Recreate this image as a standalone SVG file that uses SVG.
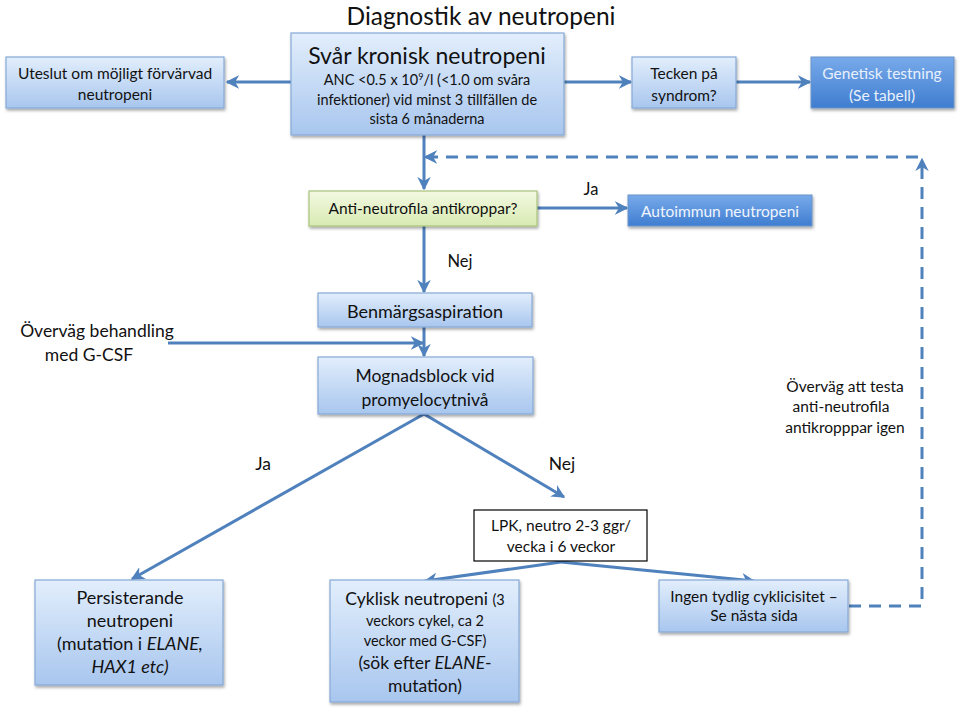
<svg xmlns="http://www.w3.org/2000/svg" width="960" height="710" viewBox="0 0 960 710">
<style>
text{font-family:Lato,"Open Sans","Liberation Sans",sans-serif;fill:#111;text-anchor:middle}
.b{fill:url(#lb);stroke:#86a9d6;stroke-width:1.2;filter:url(#sh)}
.d{fill:url(#db);stroke:#6b93c8;stroke-width:1;filter:url(#sh)}
.g{fill:url(#gr);stroke:#a9c37c;stroke-width:1.2;filter:url(#sh)}
.w{fill:#fff;stroke:#000;stroke-width:1.2}
.c{fill:none;stroke:#4f81bd;stroke-width:3}
.ds{fill:none;stroke:#4f81bd;stroke-width:3;stroke-dasharray:12,8}
</style>
<defs>
<linearGradient id="lb" x1="0" y1="0" x2="0" y2="1"><stop offset="0" stop-color="#e2eefc"/><stop offset="1" stop-color="#a8c6ee"/></linearGradient>
<linearGradient id="db" x1="0" y1="0" x2="0" y2="1"><stop offset="0" stop-color="#78aaea"/><stop offset="1" stop-color="#3f7dd0"/></linearGradient>
<linearGradient id="gr" x1="0" y1="0" x2="0" y2="1"><stop offset="0" stop-color="#f3f9e2"/><stop offset="1" stop-color="#d8eab2"/></linearGradient>
<filter id="sh" x="-10%" y="-10%" width="130%" height="140%"><feDropShadow dx="1" dy="2" stdDeviation="1.5" flood-color="#000" flood-opacity="0.35"/></filter>
<marker id="ar" viewBox="0 0 10 10" refX="9" refY="5" markerWidth="4.5" markerHeight="4.5" orient="auto" markerUnits="strokeWidth"><path d="M0,0 L10,5 L0,10 L3,5 z" fill="#4f81bd"/></marker>
</defs>
<rect width="960" height="710" fill="#fff"/>
<text x="481" y="25" font-size="24.5">Diagnostik av neutropeni</text>

<g id="connectors">
<path class="c" d="M291,82 H227" marker-end="url(#ar)"/>
<path class="c" d="M564,82 H631" marker-end="url(#ar)"/>
<path class="c" d="M736,82 H810" marker-end="url(#ar)"/>
<path class="c" d="M424,135 V189" marker-end="url(#ar)"/>
<path class="ds" d="M849,606 H922 V159" marker-end="url(#ar)"/>
<path class="ds" d="M918,157 H425" marker-end="url(#ar)"/>
<path class="c" d="M424,226 V292" marker-end="url(#ar)"/>
<path class="c" d="M537,208 H627" marker-end="url(#ar)"/>
<path class="c" d="M424,327 V356" marker-end="url(#ar)"/>
<path class="c" d="M168,343 H423" marker-end="url(#ar)"/>
<path class="c" d="M424,414 L132,579" marker-end="url(#ar)"/>
<path class="c" d="M424,414 L564,497" marker-end="url(#ar)"/>
<path class="c" d="M561,562 L425,581" marker-end="url(#ar)"/>
<path class="c" d="M561,562 L754,581" marker-end="url(#ar)"/>
</g>

<g id="uteslut">
<rect class="b" x="6" y="57" width="218" height="51"/>
<text x="115" y="79" font-size="15.5">Uteslut om möjligt förvärvad</text>
<text x="115" y="100" font-size="15.5">neutropeni</text>
</g>
<g id="svar">
<rect class="b" x="291" y="33" width="273" height="102"/>
<text x="427" y="64" font-size="23">Svår kronisk neutropeni</text>
<text x="427" y="85" font-size="14.5">ANC &lt;0.5 x 10<tspan font-size="9" dy="-5">9</tspan><tspan dy="5">/l (&lt;1.0 om svåra</tspan></text>
<text x="427" y="105" font-size="14.5">infektioner) vid minst 3 tillfällen de</text>
<text x="427" y="124" font-size="14.5">sista 6 månaderna</text>
</g>
<g id="tecken">
<rect class="b" x="632" y="57" width="104" height="51"/>
<text x="684" y="79" font-size="15.5">Tecken på</text>
<text x="684" y="101" font-size="15.5">syndrom?</text>
</g>
<g id="genetisk">
<rect class="d" x="811" y="57" width="143" height="51"/>
<text x="882" y="79" font-size="15.5" style="fill:#e8f0fb">Genetisk testning</text>
<text x="882" y="101" font-size="15.5" style="fill:#e8f0fb">(Se tabell)</text>
</g>
<g id="anti">
<rect class="g" x="309" y="191" width="228" height="35"/>
<text x="423" y="214" font-size="15.5">Anti-neutrofila antikroppar?</text>
</g>
<text x="591" y="195" font-size="16.5">Ja</text>
<g id="autoimmun">
<rect class="d" x="628" y="195" width="184" height="31"/>
<text x="720" y="217" font-size="15.5" style="fill:#f0f5fd">Autoimmun neutropeni</text>
</g>
<text x="460" y="267" font-size="16.5">Nej</text>
<g id="benmarg">
<rect class="b" x="318" y="293" width="214" height="34"/>
<text x="425" y="318" font-size="18">Benmärgsaspiration</text>
</g>
<g id="overvag-gcsf">
<text x="97" y="337" font-size="17.5">Överväg behandling</text>
<text x="89" y="361" font-size="17.5">med G-CSF</text>
</g>
<g id="mognad">
<rect class="b" x="318" y="357" width="215" height="57"/>
<text x="425" y="382" font-size="17.5">Mognadsblock vid</text>
<text x="425" y="406" font-size="17.5">promyelocytnivå</text>
</g>
<g id="overvag-testa">
<text x="845" y="392" font-size="15.5">Överväg att testa</text>
<text x="841" y="412" font-size="15.5">anti-neutrofila</text>
<text x="845" y="433" font-size="15.5">antikropppar igen</text>
</g>
<text x="263" y="470" font-size="17.5">Ja</text>
<text x="562" y="470" font-size="17.5">Nej</text>
<g id="lpk">
<rect class="w" x="474" y="510" width="173" height="51"/>
<text x="561" y="531" font-size="15.5">LPK, neutro 2-3 ggr/</text>
<text x="561" y="552" font-size="15.5">vecka i 6 veckor</text>
</g>
<g id="persisterande">
<rect class="b" x="35" y="580" width="188" height="105"/>
<text x="130" y="604" font-size="18">Persisterande</text>
<text x="130" y="627" font-size="18">neutropeni</text>
<text x="130" y="650" font-size="18">(mutation i <tspan font-style="italic">ELANE,</tspan></text>
<text x="130" y="673" font-size="18" font-style="italic">HAX1 etc)</text>
</g>
<g id="cyklisk">
<rect class="b" x="330" y="580" width="189" height="122"/>
<text x="425" y="605" font-size="17.5">Cyklisk neutropeni <tspan font-size="14.5">(3</tspan></text>
<text x="425" y="626" font-size="14.5">veckors cykel, ca 2</text>
<text x="425" y="646" font-size="14.5">veckor med G-CSF)</text>
<text x="425" y="669" font-size="17.5">(sök efter <tspan font-style="italic">ELANE</tspan>-</text>
<text x="425" y="692" font-size="17.5">mutation)</text>
</g>
<g id="ingen">
<rect class="b" x="659" y="580" width="189" height="52"/>
<text x="754" y="602" font-size="15.5">Ingen tydlig cyklicisitet –</text>
<text x="754" y="621" font-size="15.5">Se nästa sida</text>
</g>
</svg>
